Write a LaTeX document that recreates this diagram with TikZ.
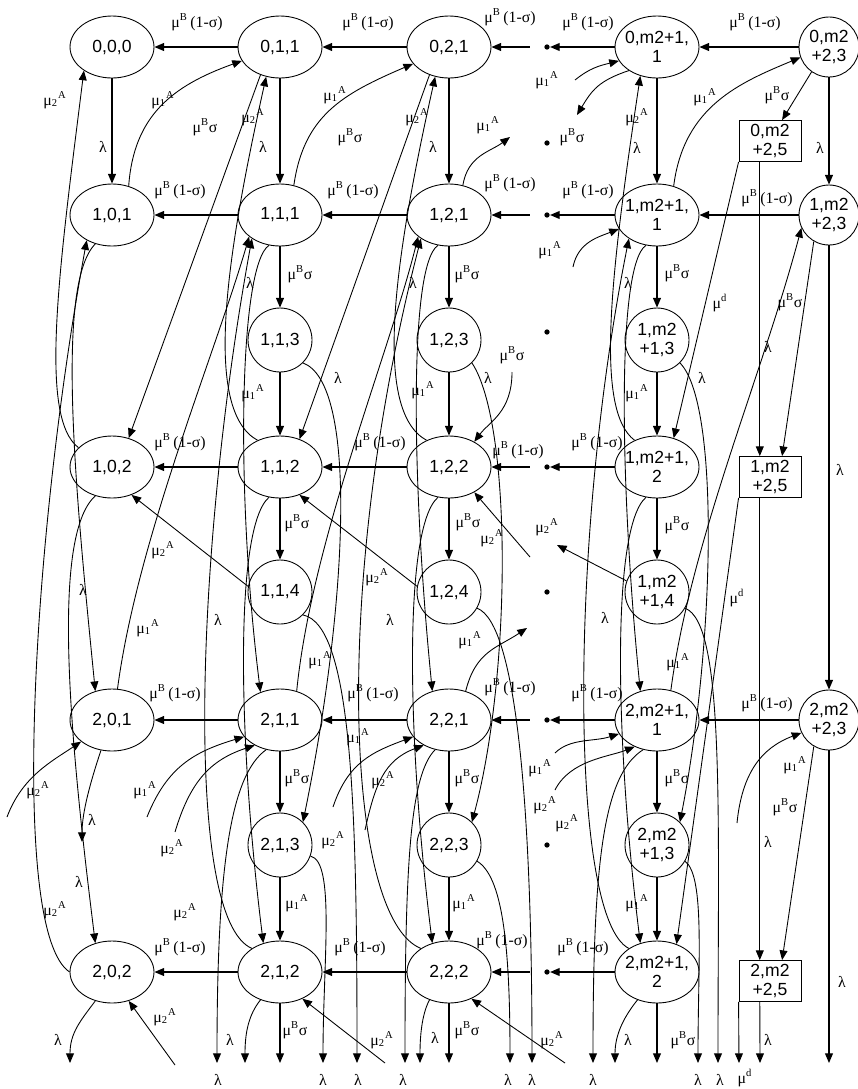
\documentclass[tikz,border=0pt]{standalone}
\usepackage{fontspec}
\setmainfont{Liberation Serif}
\newfontfamily\statesans{Liberation Sans}
\usetikzlibrary{arrows.meta}
\usetikzlibrary{shapes.geometric}

\newcommand{\muBo}{μ\textsuperscript{B}\,(1-σ)}
\newcommand{\muBs}{μ\textsuperscript{B}σ}
\newcommand{\muA}[1]{μ\textsubscript{#1}\textsuperscript{A}}
\newcommand{\mud}{μ\textsuperscript{d}}

\tikzset{
  state/.style={draw,ellipse,minimum width=1.68cm,minimum height=1.24cm,inner sep=0pt,align=center,font=\statesans\fontsize{10}{11}\selectfont},
  wide/.style={inner xsep=-1.5pt},
  phase/.style={draw,circle,minimum size=1.28cm,inner sep=0pt,align=center,font=\statesans\fontsize{10}{11}\selectfont},
  rimstate/.style={minimum size=1.2cm},
  block/.style={draw,rectangle,minimum width=1.24cm,minimum height=0.82cm,inner sep=0pt,align=center,font=\statesans\fontsize{10}{11}\selectfont},
  dotnode/.style={fill,circle,inner sep=0pt,minimum size=3pt},
  rate/.style={inner sep=0pt,font=\fontsize{9}{10}\selectfont},
}

\begin{document}
\begin{tikzpicture}[x=0.02cm,y=-0.02cm,line width=0.5pt,>={Triangle[length=5.5pt,width=4.5pt]}]

  \useasboundingbox (0,0) rectangle (858,1089);

  % level 0
  \node [state] (s000) at (112,47) {0,0,0};
  \node [state] (s011) at (280,47) {0,1,1};
  \node [state] (s021) at (449,47) {0,2,1};
  \node [dotnode] (d01) at (547,47) {};
  \node [state,wide] (s0m1) at (657,47) {0,m2+1,\\1};
  \node [phase,rimstate] (s0M3) at (829,47) {0,m2\\+2,3};
  \node [block] (s0M5) at (770,141) {0,m2\\+2,5};
  \node [dotnode] (d02) at (547,143) {};

  % level 1
  \node [state] (s101) at (112,215) {1,0,1};
  \node [state] (s111) at (280,215) {1,1,1};
  \node [state] (s121) at (449,215) {1,2,1};
  \node [dotnode] (d11) at (547,215) {};
  \node [state,wide] (s1m1) at (657,215) {1,m2+1,\\1};
  \node [phase,rimstate] (s1M3) at (829,215) {1,m2\\+2,3};
  \node [phase] (s113) at (280,340) {1,1,3};
  \node [phase] (s123) at (449,340) {1,2,3};
  \node [dotnode] (d13) at (547,332) {};
  \node [phase] (s1m3) at (657,340) {1,m2\\+1,3};
  \node [state] (s102) at (112,467) {1,0,2};
  \node [state] (s112) at (280,467) {1,1,2};
  \node [state] (s122) at (449,467) {1,2,2};
  \node [dotnode] (d12) at (547,467) {};
  \node [state,wide] (s1m2) at (657,467) {1,m2+1,\\2};
  \node [block] (s1M5) at (770,477) {1,m2\\+2,5};
  \node [phase] (s114) at (280,592) {1,1,4};
  \node [phase] (s124) at (449,592) {1,2,4};
  \node [dotnode] (d14) at (547,592) {};
  \node [phase] (s1m4) at (657,592) {1,m2\\+1,4};

  % level 2
  \node [state] (s201) at (112,720) {2,0,1};
  \node [state] (s211) at (280,720) {2,1,1};
  \node [state] (s221) at (449,720) {2,2,1};
  \node [dotnode] (d21) at (547,720) {};
  \node [state,wide] (s2m1) at (657,720) {2,m2+1,\\1};
  \node [phase,rimstate] (s2M3) at (829,720) {2,m2\\+2,3};
  \node [phase] (s213) at (280,845) {2,1,3};
  \node [phase] (s223) at (449,845) {2,2,3};
  \node [dotnode] (d23) at (547,845) {};
  \node [phase] (s2m3) at (657,845) {2,m2\\+1,3};
  \node [state] (s202) at (112,972) {2,0,2};
  \node [state] (s212) at (280,972) {2,1,2};
  \node [state] (s222) at (449,972) {2,2,2};
  \node [dotnode] (d22) at (547,972) {};
  \node [state,wide] (s2m2) at (657,972) {2,m2+1,\\2};
  \node [block] (s2M5) at (770,981) {2,m2\\+2,5};

  % loose ends
  \coordinate (b201) at (82,842);
  \coordinate (b202) at (70,1063);
  \coordinate (b211) at (217,1063);
  \coordinate (b212) at (245,1063);
  \coordinate (c212) at (280,1063);
  \coordinate (b213) at (323,1063);
  \coordinate (b114) at (357,1063);
  \coordinate (b221) at (405,1063);
  \coordinate (b222) at (420,1063);
  \coordinate (c222) at (449,1063);
  \coordinate (b223) at (510,1063);
  \coordinate (b124) at (532,1063);
  \coordinate (b2m1) at (593,1063);
  \coordinate (b2m2) at (615,1063);
  \coordinate (c2m2) at (657,1063);
  \coordinate (b2m3) at (698,1063);
  \coordinate (b1m4) at (718,1063);
  \coordinate (e2M5) at (739,1063);
  \coordinate (b2M5) at (760,1063);
  \coordinate (b2M3) at (829,1063);
  \coordinate (a201) at (7,817);
  \coordinate (a202) at (175,1065);
  \coordinate (a211) at (147,817);
  \coordinate (a211b) at (175,832);
  \coordinate (a212) at (385,1063);
  \coordinate (a221) at (333,807);
  \coordinate (a221b) at (365,830);
  \coordinate (a222) at (565,1063);
  \coordinate (a2m1) at (555,753);
  \coordinate (a2m1b) at (555,790);
  \coordinate (a2M3) at (737,823);
  \coordinate (a0m1) at (575,80);
  \coordinate (a1m1) at (573,267);
  \coordinate (a122) at (512,372);
  \coordinate (a122b) at (530,557);
  \coordinate (o121) at (510,137);
  \coordinate (o221) at (527,628);
  \coordinate (o0m1) at (577,115);
  \coordinate (o1m4) at (557,545);

  % one step to the left
  \path [->,line width=0.7pt]
    (s011) edge (s000)
    (s021) edge (s011)
    (d01)  edge [shorten <=8pt] (s021)
    (s0m1) edge (d01)
    (s0M3) edge (s0m1)
    (s111) edge (s101)
    (s121) edge (s111)
    (d11)  edge [shorten <=8pt] (s121)
    (s1m1) edge (d11)
    (s1M3) edge (s1m1)
    (s112) edge (s102)
    (s122) edge (s112)
    (d12)  edge [shorten <=8pt] (s122)
    (s1m2) edge (d12)
    (s211) edge (s201)
    (s221) edge (s211)
    (d21)  edge [shorten <=8pt] (s221)
    (s2m1) edge (d21)
    (s2M3) edge (s2m1)
    (s212) edge (s202)
    (s222) edge (s212)
    (d22)  edge [shorten <=8pt] (s222)
    (s2m2) edge (d22);

  % straight down
  \path [->,line width=0.7pt]
    (s000) edge (s101)
    (s011) edge (s111)
    (s021) edge (s121)
    (s0m1) edge (s1m1)
    (s0M3) edge (s1M3)
    (s1M3) edge (s2M3)
    (s2M3) edge (b2M3)
    (s111) edge (s113)
    (s113) edge (s112)
    (s112) edge (s114)
    (s121) edge (s123)
    (s123) edge (s122)
    (s122) edge (s124)
    (s1m1) edge (s1m3)
    (s1m3) edge (s1m2)
    (s1m2) edge (s1m4)
    (s211) edge (s213)
    (s213) edge (s212)
    (s212) edge (c212)
    (s221) edge (s223)
    (s223) edge (s222)
    (s222) edge (c222)
    (s2m1) edge (s2m3)
    (s2m3) edge (s2m2)
    (s2m2) edge (c2m2);

  % last column
  \path [->]
    (s0M3.235) edge (s0M5.60)
    (s1M3.240) edge (s1M5.60)
    (s2M3.240) edge (s2M5.60)
    (s0M5.244) edge (s1M5.116)
    (s1M5.244) edge (s2M5.116)
    (s2M5.244) edge (b2M5)
    (s0M5.south west) edge (s1m2.60)
    (s1M5.south west) edge (s2m2.55)
    (s2M5.south west) edge (e2M5)
    (a2M3) edge [controls={+(5,-50) and +(-40,15)}] (s2M3.205);

  % column 0
  \path [->]
    (s101.60)  edge [controls={+(5,-70) and +(-70,25)}] (s011.200)
    (s102.150) edge [controls={+(-40,-30) and +(-25,200)}] (s000.220)
    (s101.240) edge [controls={+(-40,40) and +(-20,-200)}] (s201.120)
    (s102.240) edge [controls={+(-45,40) and +(-25,-200)}] (s202.120)
    (s202.180) edge [controls={+(-60,-40) and +(-55,300)}] (s101.225)
    (s201.80)  edge [controls={+(20,-150) and +(-35,120)}] (s111.215)
    (a201)     edge [controls={+(15,-40) and +(-30,20)}] (s201.215)
    (s201.250) edge [controls={+(-10,30) and +(0,-30)}] (b201)
    (s202.240) edge [controls={+(-15,20) and +(0,-30)}] (b202)
    (a202)     edge (s202.300);

  % column 1
  \path [->]
    (s011.235) edge (s102.60)
    (s111.65)  edge [controls={+(10,-70) and +(-70,30)}] (s021.205)
    (s111.250) edge [controls={+(-30,20) and +(-25,-200)}] (s211.125)
    (s112.250) edge [controls={+(-35,30) and +(-25,-200)}] (s212.120)
    (s113.315) edge [controls={+(55,20) and +(45,-220)}] (s213.45)
    (s114.315) edge [controls={+(50,10) and +(0,-250)}] (b114)
    (s213.340) edge [controls={+(25,5) and +(0,-100)}] (b213)
    (s211.245) edge [controls={+(-35,25) and +(0,-200)}] (b211)
    (s212.235) edge [controls={+(-12,15) and +(0,-30)}] (b212)
    (s112.130) edge [controls={+(-55,-30) and +(-40,180)}] (s011.245)
    (s212.140) edge [controls={+(-70,-30) and +(-55,300)}] (s111.220)
    (s211.60)  edge [controls={+(15,-150) and +(-30,120)}] (s121.215)
    (a211)     edge [controls={+(20,-50) and +(-50,15)}] (s211.205)
    (a211b)    edge [controls={+(15,-50) and +(-45,15)}] (s211.225)
    (s114.170) edge (s102.305)
    (a212)     edge (s212.310);

  % column 2
  \path [->]
    (s021.235) edge (s112.55)
    (s121.65)  edge [controls={+(5,-30) and +(-20,15)}] (o121)
    (a122)     edge [controls={+(0,40) and +(15,-20)}] (s122.45)
    (a122b)    edge (s122.315)
    (s121.250) edge [controls={+(-30,20) and +(-20,-200)}] (s221.120)
    (s122.250) edge [controls={+(-35,30) and +(-25,-200)}] (s222.120)
    (s123.315) edge [controls={+(40,60) and +(40,-150)}] (s223.45)
    (s124.330) edge [controls={+(40,15) and +(0,-250)}] (b124)
    (s223.330) edge [controls={+(25,15) and +(0,-120)}] (b223)
    (s221.245) edge [controls={+(-25,25) and +(0,-200)}] (b221)
    (s222.235) edge [controls={+(-8,15) and +(0,-25)}] (b222)
    (s122.130) edge [controls={+(-55,-30) and +(-40,180)}] (s021.245)
    (s222.140) edge [controls={+(-75,-30) and +(-90,350)}] (s121.220)
    (s221.60)  edge [controls={+(10,-40) and +(-30,20)}] (o221)
    (a221)     edge [controls={+(15,-45) and +(-40,15)}] (s221.205)
    (a221b)    edge [controls={+(10,-45) and +(-40,15)}] (s221.225)
    (s124.170) edge (s112.305)
    (a222)     edge (s222.310);

  % column m2+1
  \path [->]
    (s0m1.220) edge [controls={+(-30,10) and +(15,-25)}] (o0m1)
    (a0m1)     edge [controls={+(15,-12) and +(-20,5)}] (s0m1.200)
    (s1m1.60)  edge [controls={+(10,-80) and +(-60,25)}] (s0M3.200)
    (a1m1)     edge [controls={+(5,-25) and +(-20,8)}] (s1m1.200)
    (s1m1.250) edge [controls={+(-30,20) and +(-20,-200)}] (s2m1.120)
    (s1m2.250) edge [controls={+(-35,30) and +(-25,-200)}] (s2m2.120)
    (s1m3.315) edge [controls={+(40,40) and +(35,-180)}] (s2m3.45)
    (s1m4.330) edge [controls={+(40,15) and +(0,-250)}] (b1m4)
    (s2m3.330) edge [controls={+(20,15) and +(0,-100)}] (b2m3)
    (s2m1.245) edge [controls={+(-40,25) and +(0,-200)}] (b2m1)
    (s2m2.235) edge [controls={+(-12,15) and +(0,-30)}] (b2m2)
    (s1m2.130) edge [controls={+(-40,-30) and +(-30,200)}] (s0m1.240)
    (s2m2.140) edge [controls={+(-60,-30) and +(-60,300)}] (s1m1.220)
    (s2m1.65)  edge [controls={+(20,-150) and +(-40,150)}] (s1M3.205)
    (a2m1)     edge [controls={+(15,-15) and +(-25,8)}] (s2m1.200)
    (a2m1b)    edge [controls={+(15,-30) and +(-25,10)}] (s2m1.230)
    (s1m4.160) edge (o1m4);

  % rates
  \foreach \p in {(197,22),(368,22),(510,17),(588,22),(755,22),
                  (180,190),(353,190),(510,183),(588,190),(767,198),
                  (180,442),(380,442),(518,450),(597,442),
                  (175,693),(373,693),(510,687),(597,693),(767,703),
                  (180,947),(360,947),(502,940),(583,947)}
    \node [rate] at \p {\muBo};
  \foreach \p in {(103,147),(263,147),(433,147),(637,148),(820,148),
                  (83,590),(79,882),(92,820),(58,1040),
                  (250,283),(218,620),(338,378),(230,1040),
                  (413,283),(390,620),(488,378),(435,1038),
                  (628,283),(605,618),(702,378),(628,1040),
                  (768,347),(840,470),(768,842),(842,982),(768,1040),
                  (218,1080),(323,1080),(358,1080),(403,1080),(508,1080),
                  (532,1080),(593,1080),(698,1080),(720,1080)}
    \node [rate] at \p {λ};
  \foreach \p in {(205,127),(350,137),(572,137),(777,95),
                  (300,274),(297,523),(297,778),(295,1030),
                  (467,274),(468,522),(467,778),(467,1030),(512,355),
                  (677,273),(677,525),(677,778),(683,1040),
                  (790,302),(785,807)}
    \node [rate] at \p {\muBs};
  \foreach \p in {(163,100),(335,95),(488,125),(705,97),(547,80),(550,250),
                  (148,628),(320,660),(470,640),(678,662),
                  (145,790),(358,737),(540,768),(795,765),
                  (253,393),(423,390),(637,393),(297,903),(464,903),(637,903)}
    \node [rate] at \p {\muA{1}};
  \foreach \p in {(55,100),(253,117),(417,117),(637,117),
                  (55,910),(185,912),(333,840),(567,823),
                  (38,790),(172,848),(383,780),(545,805),
                  (163,550),(377,577),(547,527),(492,538),
                  (165,1017),(382,1040),(552,1040)}
    \node [rate] at \p {\muA{2}};
  \foreach \p in {(720,303),(737,598),(745,1078)}
    \node [rate] at \p {\mud};

\end{tikzpicture}
\end{document}
